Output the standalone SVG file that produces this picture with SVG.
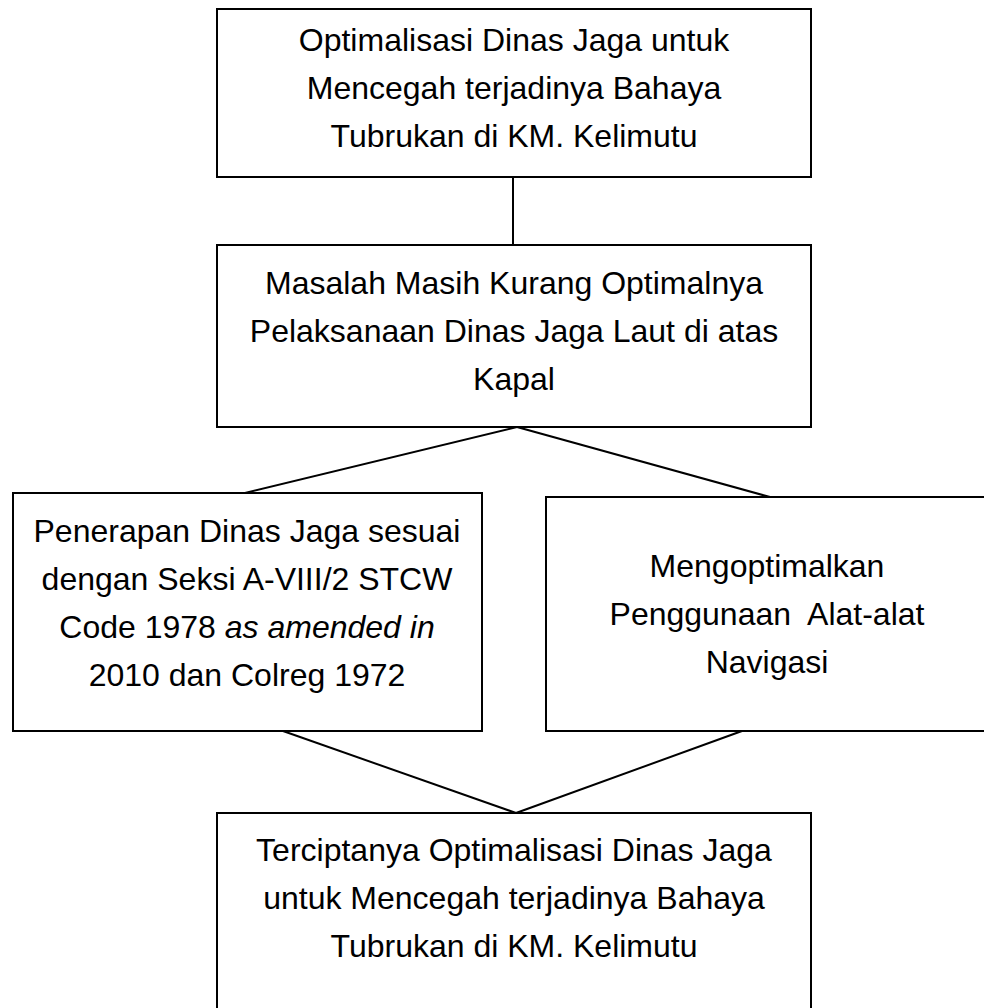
<svg xmlns="http://www.w3.org/2000/svg" width="984" height="1008" viewBox="0 0 984 1008">
<style>
.box{fill:#fff;stroke:#000;stroke-width:2}
.t{font-family:"Liberation Sans",Arial,sans-serif;font-size:32px;fill:#000;text-anchor:middle}
.c{stroke:#000;stroke-width:2;fill:none}
</style>
<rect width="984" height="1008" fill="#fff"/>
<g id="connectors">
<line class="c" x1="513" y1="177" x2="513" y2="245"/>
<line class="c" x1="517" y1="427" x2="245" y2="493"/>
<line class="c" x1="517" y1="427" x2="770" y2="497"/>
<line class="c" x1="283" y1="731" x2="516" y2="813"/>
<line class="c" x1="742" y1="731" x2="516" y2="813"/>
</g>
<g id="n1">
<rect class="box" x="217" y="9" width="594" height="168"/>
<text class="t" x="514" y="51">Optimalisasi Dinas Jaga untuk</text>
<text class="t" x="514" y="99">Mencegah terjadinya Bahaya</text>
<text class="t" x="514" y="147">Tubrukan di KM. Kelimutu</text>
</g>
<g id="n2">
<rect class="box" x="217" y="245" width="594" height="182"/>
<text class="t" x="514" y="294">Masalah Masih Kurang Optimalnya</text>
<text class="t" x="514" y="342">Pelaksanaan Dinas Jaga Laut di atas</text>
<text class="t" x="514" y="390">Kapal</text>
</g>
<g id="n3">
<rect class="box" x="13" y="493" width="469" height="238"/>
<text class="t" x="247" y="542">Penerapan Dinas Jaga sesuai</text>
<text class="t" x="247" y="590">dengan Seksi A-VIII/2 STCW</text>
<text class="t" x="247" y="638">Code 1978 <tspan font-style="italic">as amended in</tspan></text>
<text class="t" x="247" y="686">2010 dan Colreg 1972</text>
</g>
<g id="n4">
<rect class="box" x="546" y="497" width="450" height="234"/>
<text class="t" x="767" y="577">Mengoptimalkan</text>
<text class="t" x="767" y="625" xml:space="preserve">Penggunaan  Alat-alat</text>
<text class="t" x="767" y="673">Navigasi</text>
</g>
<g id="n5">
<rect class="box" x="217" y="813" width="594" height="220"/>
<text class="t" x="514" y="861">Terciptanya Optimalisasi Dinas Jaga</text>
<text class="t" x="514" y="909">untuk Mencegah terjadinya Bahaya</text>
<text class="t" x="514" y="957">Tubrukan di KM. Kelimutu</text>
</g>
</svg>
